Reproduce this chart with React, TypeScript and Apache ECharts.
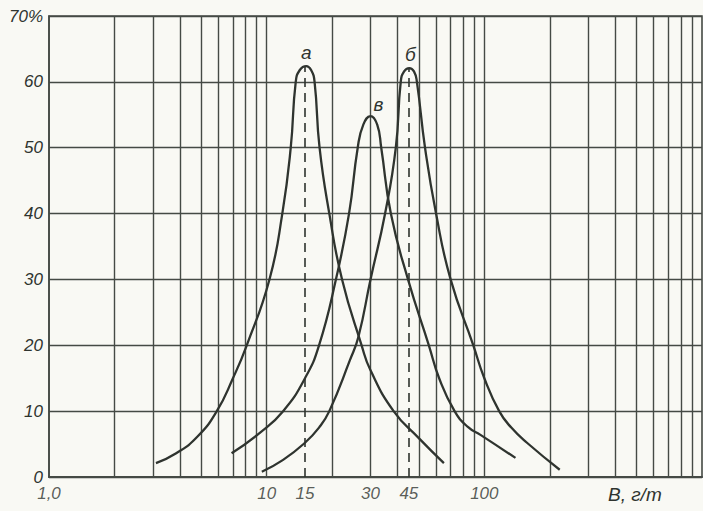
import React, { useEffect, useRef } from "react";
import * as echarts from "echarts";

// Curve "а"
const aX = [3.1, 3.84, 4.8, 5.9, 7.0, 8.1, 10.3, 11.8, 12.9, 13.6, 14.2, 15.2, 16.0, 16.6, 17.5, 19.4, 22.2, 27.3, 30, 38.3, 50, 65.2];
const aY = [2.1, 3.6, 6.1, 10, 15, 20, 30, 40, 50, 60, 61.8, 62.4, 61.8, 60, 50, 40, 30, 20, 16.2, 10, 5.9, 2.1];
// Curve "б"
const bX = [9.5, 11.9, 15, 17.4, 19.4, 24.1, 26.4, 30, 35, 39.2, 41.3, 42.8, 45.2, 47.5, 49, 53.4, 60, 70, 89, 100, 117, 133, 157, 222];
const bY = [0.8, 2.6, 5.2, 7.5, 10, 17.7, 21.3, 30, 40, 50, 60, 61.6, 62.1, 61.6, 60, 50, 40, 30, 20, 15, 10, 7.5, 5.2, 1.1];
// Curve "в"
const cX = [6.9, 9.3, 11.9, 15, 17.4, 20.8, 23.9, 26.2, 27.8, 30, 32.2, 33.6, 37.2, 44.6, 55.6, 62, 73, 84, 96, 139];
const cY = [3.6, 6.7, 10, 15, 20, 30, 40, 50, 53.5, 54.8, 53.5, 50, 40, 30, 20, 15, 10, 7.6, 6.4, 2.9];

const curveNames = ["а", "б", "в"];
const xTickLabels = [1, 10, 15, 30, 45, 100];
const xGridValues = [2, 3, 4, 5, 6, 7, 8, 9, 10, 20, 30, 40, 50, 60, 70, 80, 90, 100, 200, 300, 400, 500, 600, 700, 800, 900];
const dashedPeaksX = [15, 45];
const dashedPeaksY = [62.4, 62.1];
const xAxisName = "В, г/т";

const INK = "#2f342f";
const GRID = "#454a45";
const FONT = "'Liberation Sans', 'DejaVu Sans', sans-serif";

function zip(xs: number[], ys: number[]) {
  return xs.map((x, i) => [x, ys[i]]);
}

function curveSeries(name: string, xs: number[], ys: number[], offset: number[]) {
  const peak = ys.indexOf(Math.max(...ys));
  return {
    type: "line",
    name,
    data: zip(xs, ys),
    smooth: 0.5,
    showSymbol: false,
    symbol: "none",
    z: 10,
    lineStyle: { color: INK, width: 2.3 },
    markPoint: {
      silent: true,
      symbol: "circle",
      symbolSize: 0,
      label: {
        show: true,
        position: "top",
        distance: 4,
        offset,
        formatter: name,
        fontFamily: FONT,
        fontStyle: "italic",
        fontSize: 19,
        color: INK,
      },
      data: [{ coord: [xs[peak], ys[peak]] }],
    },
  };
}

export default function App() {
  const ref = useRef<HTMLDivElement>(null);
  useEffect(() => {
    if (!ref.current) return;
    const chart = echarts.init(ref.current, undefined, { renderer: "svg" });
    chart.setOption({
      animation: false,
      backgroundColor: "#f9f9f4",
      grid: {
        left: 49,
        right: 1,
        top: 16,
        bottom: 34,
        show: true,
        borderColor: GRID,
        borderWidth: 1.6,
        backgroundColor: "transparent",
      },
      xAxis: {
        type: "log",
        logBase: 10,
        min: 1,
        max: 1000,
        axisLabel: { show: false },
        axisTick: { show: false },
        splitLine: { show: false },
        axisLine: { show: true, lineStyle: { color: GRID, width: 2 } },
      },
      yAxis: {
        type: "value",
        min: 0,
        max: 70,
        interval: 10,
        axisTick: { show: false },
        axisLine: { show: true, lineStyle: { color: GRID, width: 1.6 } },
        splitLine: { show: true, lineStyle: { color: GRID, width: 1.4 } },
        axisLabel: {
          margin: 6,
          fontFamily: FONT,
          fontStyle: "italic",
          fontSize: 17,
          color: INK,
          formatter: (v: number) => (v === 70 ? "70%" : String(v)),
        },
      },
      graphic: [
        {
          type: "text",
          left: 608,
          top: 485,
          style: {
            text: xAxisName,
            fontFamily: FONT,
            fontStyle: "italic",
            fontSize: 19,
            fill: INK,
          },
        },
      ],
      series: [
        {
          type: "scatter",
          data: xTickLabels.map((v) => [v, 0]),
          symbolSize: 0,
          silent: true,
          z: 1,
          label: {
            show: true,
            position: "bottom",
            distance: 8,
            fontFamily: FONT,
            fontStyle: "italic",
            fontSize: 17,
            color: INK,
            formatter: (p: any) => (p.value[0] === 1 ? "1,0" : String(p.value[0])),
          },
          markLine: {
            silent: true,
            symbol: "none",
            label: { show: false },
            lineStyle: { color: GRID, width: 1.4, type: "solid" },
            data: xGridValues.map((v) => ({ xAxis: v })),
          },
        },
        {
          type: "scatter",
          data: [],
          silent: true,
          markLine: {
            silent: true,
            symbol: "none",
            label: { show: false },
            lineStyle: { color: INK, width: 1.6, type: [9, 6] },
            data: dashedPeaksX.map((x, i) => [
              { coord: [x, 0] },
              { coord: [x, dashedPeaksY[i]] },
            ]),
          },
        },
        curveSeries(curveNames[0], aX, aY, [0, 0]),
        curveSeries(curveNames[1], bX, bY, [1, 0]),
        curveSeries(curveNames[2], cX, cY, [8, 2]),
      ],
    });
    return () => chart.dispose();
  }, []);
  return (
    <div
      ref={ref}
      style={{ position: "absolute", left: 0, top: 0, width: 703, height: 511 }}
    />
  );
}
